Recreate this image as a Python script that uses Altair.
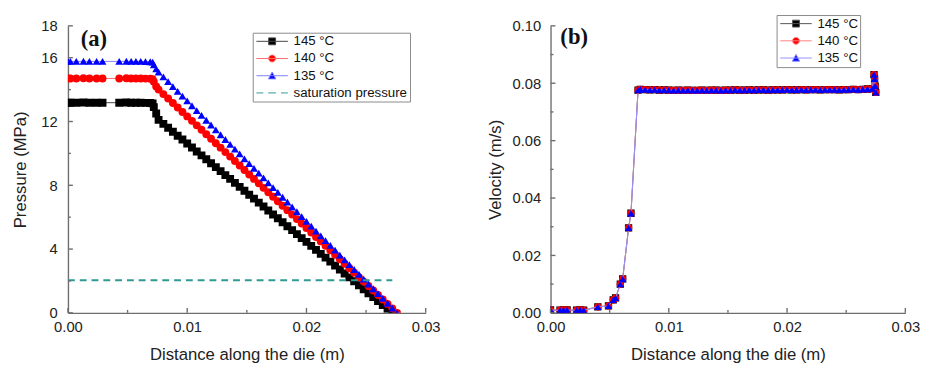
import altair as alt
import pandas as pd

FONT = "Liberation Sans"
SERIF = "Liberation Serif"

# ---------------- shared categories / styles ----------------
series_names = ["145 °C", "140 °C", "135 °C"]
sat_name = "saturation pressure"
marker_fill = ["#000000", "#ff0000", "#0000ff"]
line_stroke = ["#444444", "#ff6a6a", "#8080ff"]
marker_shape = ["square", "circle", "triangle-up"]
sat_color = "#2f9a94"

# ---------------- panel (a): pressure ----------------
flat_x = [0.0000, 0.0002, 0.0007, 0.0013, 0.0018, 0.0024, 0.0029, 0.0043,
          0.0049, 0.0053, 0.0057, 0.0061, 0.0065, 0.0069, 0.0071]
p145_flat = [13.18, 13.18, 13.18, 13.19, 13.18, 13.18, 13.18, 13.18,
             13.19, 13.18, 13.18, 13.18, 13.17, 13.16, 13.14]
p140_flat = [14.70, 14.70, 14.70, 14.71, 14.70, 14.70, 14.70, 14.70,
             14.71, 14.70, 14.70, 14.70, 14.69, 14.68, 14.66]
p135_flat = [15.77, 15.77, 15.77, 15.78, 15.77, 15.77, 15.77, 15.77,
             15.78, 15.77, 15.77, 15.77, 15.76, 15.75, 15.73]

trans_x = [0.0072, 0.0074]
p145_trans = [12.90, 12.50]
p140_trans = [14.50, 14.20]
p135_trans = [15.55, 15.30]

slope_x = [0.0076, 0.0080, 0.0084, 0.0088, 0.0092, 0.0096, 0.0100, 0.0104,
           0.0108, 0.0112, 0.0116, 0.0120, 0.0124, 0.0128, 0.0132, 0.0136,
           0.0140, 0.0144, 0.0148, 0.0152, 0.0156, 0.0160, 0.0164, 0.0168,
           0.0172, 0.0176, 0.0180, 0.0184, 0.0188, 0.0192, 0.0196, 0.0200,
           0.0204, 0.0208, 0.0212, 0.0216, 0.0220, 0.0224, 0.0228, 0.0232,
           0.0236, 0.0240, 0.0244, 0.0248, 0.0252, 0.0256, 0.0260, 0.0264,
           0.0268, 0.0272, 0.0276]
p145_slope = [12.10, 11.85, 11.61, 11.36, 11.11, 10.87, 10.62, 10.37, 10.12,
              9.88, 9.63, 9.38, 9.14, 8.89, 8.64, 8.40, 8.15, 7.90, 7.66,
              7.41, 7.16, 6.91, 6.67, 6.42, 6.17, 5.93, 5.68, 5.43, 5.19,
              4.94, 4.69, 4.45, 4.20, 3.95, 3.70, 3.46, 3.21, 2.96, 2.72,
              2.47, 2.22, 1.98, 1.73, 1.48, 1.23, 0.99, 0.74, 0.49, 0.25,
              0.00]
p140_slope = [14.00, 13.72, 13.44, 13.16, 12.88, 12.60, 12.32, 12.04, 11.76,
              11.48, 11.20, 10.92, 10.64, 10.36, 10.08, 9.80, 9.52, 9.24,
              8.96, 8.68, 8.40, 8.12, 7.84, 7.56, 7.28, 7.00, 6.72, 6.44,
              6.16, 5.88, 5.60, 5.32, 5.04, 4.76, 4.48, 4.20, 3.92, 3.64,
              3.36, 3.08, 2.80, 2.52, 2.24, 1.96, 1.68, 1.40, 1.12, 0.84,
              0.56, 0.28, 0.00]
p135_slope = [15.10, 14.80, 14.50, 14.19, 13.89, 13.59, 13.29, 12.99, 12.68,
              12.38, 12.08, 11.78, 11.48, 11.17, 10.87, 10.57, 10.27, 9.97,
              9.66, 9.36, 9.06, 8.76, 8.46, 8.15, 7.85, 7.55, 7.25, 6.95,
              6.64, 6.34, 6.04, 5.74, 5.44, 5.13, 4.83, 4.53, 4.23, 3.93,
              3.62, 3.32, 3.02, 2.72, 2.42, 2.11, 1.81, 1.51, 1.21, 0.91,
              0.60, 0.30, 0.00]

sat_x = [0.0000, 0.0272]
sat_y = [2.05, 2.05]

press_x_ticks_major = [0.00, 0.01, 0.02, 0.03]
press_x_ticks_minor = [0.005, 0.015, 0.025]
press_y_labels = [0, 4, 8, 12, 16, 18]
press_y_ticks_major = [0, 4, 8, 12, 16, 18]
press_y_ticks_minor = [2, 6, 10, 14]

# ---------------- panel (b): velocity ----------------
rise_x = [0.0000, 0.0008, 0.0011, 0.0014, 0.0022, 0.0025, 0.0028, 0.0040,
          0.0049, 0.0053, 0.0055, 0.0059, 0.0061, 0.0066, 0.0068, 0.0074]
vel_rise = [0.0010, 0.0009, 0.0010, 0.0010, 0.0009, 0.0010, 0.0009, 0.0021,
            0.0024, 0.0045, 0.0052, 0.0100, 0.0118, 0.0296, 0.0347, 0.0776]
plateau_x = [0.0076, 0.0080, 0.0084, 0.0088, 0.0092, 0.0096, 0.0100, 0.0104,
             0.0108, 0.0112, 0.0116, 0.0120, 0.0124, 0.0128, 0.0132, 0.0136,
             0.0140, 0.0144, 0.0148, 0.0152, 0.0156, 0.0160, 0.0164, 0.0168,
             0.0172, 0.0176, 0.0180, 0.0184, 0.0188, 0.0192, 0.0196, 0.0200,
             0.0204, 0.0208, 0.0212, 0.0216, 0.0220, 0.0224, 0.0228, 0.0232,
             0.0236, 0.0240, 0.0244, 0.0248, 0.0252, 0.0256, 0.0260, 0.0264,
             0.0268, 0.0272]
vel_plateau = [0.0779, 0.0778, 0.0777, 0.0778, 0.0776, 0.0777, 0.0776, 0.0775,
               0.0776, 0.0775, 0.0776, 0.0775, 0.0775, 0.0776, 0.0775, 0.0776,
               0.0776, 0.0775, 0.0776, 0.0776, 0.0777, 0.0776, 0.0776, 0.0777,
               0.0776, 0.0777, 0.0777, 0.0776, 0.0777, 0.0777, 0.0777, 0.0778,
               0.0777, 0.0777, 0.0778, 0.0777, 0.0778, 0.0778, 0.0777, 0.0778,
               0.0778, 0.0778, 0.0777, 0.0778, 0.0778, 0.0779, 0.0778, 0.0779,
               0.0780, 0.0781]
end_x = [0.02735, 0.0274, 0.02745, 0.0275]
vel_end = [0.0830, 0.0815, 0.0790, 0.0768]

vel_x_ticks_major = [0.00, 0.01, 0.02, 0.03]
vel_x_ticks_minor = [0.005, 0.015, 0.025]
vel_y_labels = [0.00, 0.02, 0.04, 0.06, 0.08, 0.10]
vel_y_ticks_major = [0.00, 0.02, 0.04, 0.06, 0.08, 0.10]
vel_y_ticks_minor = [0.01, 0.03, 0.05, 0.07, 0.09]

# ---------------- legend symbol paths (line + marker) ----------------
legend_paths = [
    "M-1,0H5.4M1.5,-0.7H2.9V0.7H1.5Z",
    "M-1,0H5.4M1.5,0A0.7,0.7,0,1,0,2.9,0A0.7,0.7,0,1,0,1.5,0Z",
    "M-1,0H5.4M1.45,0.65L2.2,-0.75L2.95,0.65Z",
    "M-1,0H0.4M1.4,0H3M4,0H5.4",
]

AXIS_COLOR = "#6e6e6e"


def series_frame(xs, ys):
    return pd.DataFrame({"x": xs, "y": ys})


def build_panel(W, H, xdom, ydom, x_labels, x_major, x_minor, y_labels,
                y_major, y_minor, y_fmt, y_title, series_data, line_colors,
                legend_entries, legend_fill, legend_stroke, legend_shapes,
                legend_x, legend_y, panel_text, text_x, text_y,
                y_label_pad, y_title_pad, marker_size, extra_layers=None):
    xs = alt.Scale(domain=xdom, nice=False, zero=False, padding=0)
    ys = alt.Scale(domain=ydom, nice=False, zero=False, padding=0)
    xaxis = alt.Axis(values=x_labels, format=".2f", title="Distance along the die (m)",
                     labelPadding=7, titlePadding=12, labelFlush=False)
    yaxis = alt.Axis(values=y_labels, format=y_fmt, title=y_title, labelFlush=False,
                     labelPadding=y_label_pad, titlePadding=y_title_pad)

    def X(field):
        return alt.X(field, scale=xs, axis=xaxis)

    def Y(field):
        return alt.Y(field, scale=ys, axis=yaxis)

    layers = []
    for (df, lc, mf, ms) in zip(series_data, line_colors, marker_fill, marker_shape):
        layers.append(alt.Chart(df).mark_line(color=lc, strokeWidth=1, clip=True)
                      .encode(x=X("x:Q"), y=Y("y:Q")))
        layers.append(alt.Chart(df).mark_point(filled=True, shape=ms, color=mf,
                                              size=marker_size, opacity=1, clip=True)
                      .encode(x=X("x:Q"), y=Y("y:Q")))

    if extra_layers:
        for make in extra_layers:
            layers.append(make(X, Y))

    leg = alt.Legend(orient="none", legendX=legend_x, legendY=legend_y, title=None,
                     strokeColor="#8a8a8a", fillColor="white", padding=2,
                     rowPadding=2.5, labelFont=FONT, labelFontSize=13.5,
                     labelColor="#111", symbolSize=100, symbolStrokeWidth=1,
                     labelOffset=26)
    leg_df = pd.DataFrame({"series": legend_entries,
                           "x": [-1.0] * len(legend_entries),
                           "y": [ydom[0]] * len(legend_entries)})
    layers.append(
        alt.Chart(leg_df).mark_point(filled=True, opacity=1, strokeWidth=1, clip=True)
        .encode(
            x=X("x:Q"), y=Y("y:Q"),
            fill=alt.Fill("series:N", scale=alt.Scale(domain=legend_entries, range=legend_fill), legend=leg),
            stroke=alt.Stroke("series:N", scale=alt.Scale(domain=legend_entries, range=legend_stroke), legend=leg),
            shape=alt.Shape("series:N", scale=alt.Scale(domain=legend_entries, range=legend_shapes), legend=leg),
        )
    )

    # inward tick marks
    def xticks(vals, length):
        return alt.Chart(pd.DataFrame({"x": vals})).mark_rule(
            color=AXIS_COLOR, strokeWidth=1.4).encode(
            x=X("x:Q"), y=alt.value(H), y2=alt.value(H - length))

    def yticks(vals, length):
        return alt.Chart(pd.DataFrame({"y": vals})).mark_rule(
            color=AXIS_COLOR, strokeWidth=1.4).encode(
            y=Y("y:Q"), x=alt.value(0), x2=alt.value(length))

    layers += [xticks(x_major, 5), xticks(x_minor, 3),
               yticks(y_major, 5), yticks(y_minor, 3)]

    layers.append(
        alt.Chart(pd.DataFrame({"t": [panel_text]})).mark_text(
            font=SERIF, fontWeight="bold", fontSize=23, align="left",
            baseline="middle", color="#111").encode(
            text="t:N", x=alt.value(text_x), y=alt.value(text_y))
    )
    return alt.layer(*layers).properties(width=W, height=H)


# ---- build panel (a)
a_series = [
    series_frame(flat_x + trans_x + slope_x[:50], p145_flat + p145_trans + p145_slope),
    series_frame(flat_x + trans_x + slope_x, p140_flat + p140_trans + p140_slope),
    series_frame(flat_x + trans_x + slope_x, p135_flat + p135_trans + p135_slope),
]


def sat_layer(X, Y):
    return alt.Chart(series_frame(sat_x, sat_y)).mark_line(
        color=sat_color, strokeWidth=2, strokeDash=[7, 5]).encode(
        x=X("x:Q"), y=Y("y:Q"))


panel_a = build_panel(
    364, 292, [0, 0.03], [0, 18], press_x_ticks_major, press_x_ticks_major,
    press_x_ticks_minor, press_y_labels, press_y_ticks_major, press_y_ticks_minor,
    "d", "Pressure (MPa)", a_series, line_stroke,
    series_names + [sat_name], marker_fill + [sat_color], line_stroke + [sat_color],
    legend_paths, 188, 7, "(a)", 13, 14, 11, 11, 64, extra_layers=[sat_layer])

# ---- build panel (b)
vel_x = rise_x + plateau_x + end_x
vel_y = vel_rise + vel_plateau + vel_end
b_series = [series_frame(vel_x, vel_y), series_frame(vel_x, vel_y),
            series_frame(vel_x, vel_y)]

panel_b = build_panel(
    361, 292, [0, 0.03], [0, 0.10], vel_x_ticks_major, vel_x_ticks_major,
    vel_x_ticks_minor, vel_y_labels, vel_y_ticks_major, vel_y_ticks_minor,
    ".2f", "Velocity (m/s)", b_series, ["#555555", "#ff8080", "#9090ff"],
    series_names, marker_fill, ["#555555", "#ff8080", "#9090ff"],
    legend_paths[:3], 230, -11, "(b)", 10, 11, 10, 8, 55)

chart = alt.hconcat(panel_a, panel_b, spacing=46).resolve_scale(
    fill="independent", stroke="independent", shape="independent"
).properties(
    padding={"left": 4, "top": 3, "right": 5, "bottom": 5}
).configure_view(stroke=None).configure_axis(
    domainColor=AXIS_COLOR, domainWidth=1.4, ticks=False, grid=False,
    labelFont=FONT, labelFontSize=15, labelColor="#222",
    titleFont=FONT, titleFontSize=17, titleFontWeight="normal", titleColor="#222"
).configure_legend(labelFont=FONT)

chart.save("out.html", embed_options={"renderer": "svg", "actions": False})
